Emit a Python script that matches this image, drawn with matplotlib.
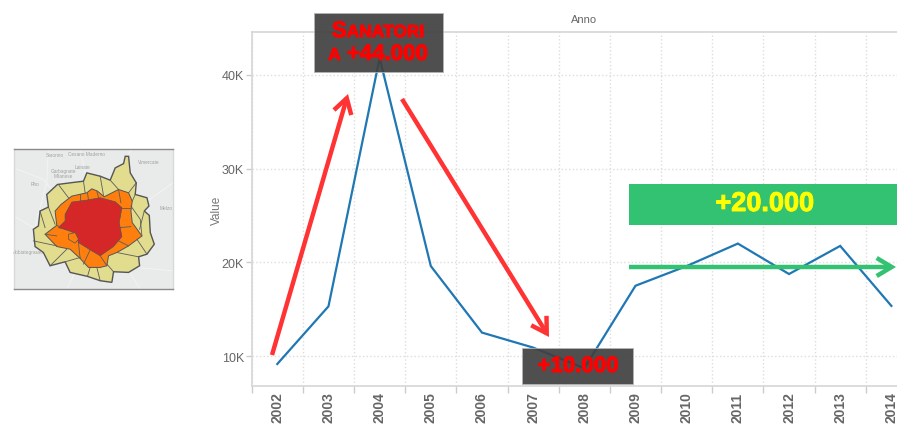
import matplotlib
matplotlib.use("Agg")
import matplotlib.pyplot as plt
import matplotlib.patheffects as pe
from matplotlib.patches import FancyArrowPatch, Polygon, Rectangle

W, H = 897, 427

years = [2002, 2003, 2004, 2005, 2006, 2007, 2008, 2009, 2010, 2011, 2012, 2013, 2014]
values = [9150, 15300, 41800, 19600, 12500, 10900, 8700, 17500, 19600, 22000, 18750, 21750, 15350]
y_ticks = [10000, 20000, 30000, 40000]
y_labels = ["10K", "20K", "30K", "40K"]

# map shapes, in map units
outer_ring = [(375, 50), (385, 50), (390, 100), (408, 130), (405, 165), (440, 175), (446, 200),
              (432, 215), (447, 228), (450, 280), (462, 315), (440, 345), (415, 353), (418, 380),
              (385, 400), (340, 398), (335, 430), (300, 425), (262, 412), (210, 400), (195, 368),
              (150, 380), (130, 340), (105, 322), (100, 270), (115, 260), (120, 215), (145, 203),
              (140, 165), (172, 135), (210, 130), (250, 125), (260, 100), (300, 110), (330, 122),
              (345, 85), (370, 72)]
middle_ring = [(183, 195), (215, 170), (260, 160), (275, 148), (292, 155), (312, 172), (355, 150),
               (385, 160), (396, 185), (392, 215), (396, 250), (425, 290), (385, 320), (350, 340),
               (325, 350), (320, 380), (300, 385), (265, 385), (240, 358), (210, 330), (170, 322),
               (135, 285), (170, 258), (165, 215)]
centre = [(195, 225), (215, 188), (260, 182), (300, 175), (345, 187), (365, 205), (357, 250),
          (365, 292), (340, 322), (300, 350), (270, 332), (235, 310), (225, 282), (200, 272),
          (175, 265), (195, 245)]
inner_cut = [(205, 285), (225, 280), (235, 300), (225, 312), (205, 300)]
borders = [
    [(175, 135), (205, 175)], [(250, 125), (255, 160)], [(300, 110), (310, 168)],
    [(330, 122), (355, 150)], [(408, 130), (385, 160)], [(405, 165), (396, 185)],
    [(392, 200), (420, 240), (425, 290)], [(432, 215), (418, 270)], [(145, 203), (165, 255)],
    [(120, 215), (135, 265)], [(100, 305), (170, 320)], [(150, 380), (200, 330)],
    [(195, 368), (240, 355)], [(262, 412), (270, 385)], [(300, 425), (290, 385)],
    [(340, 398), (320, 375)], [(415, 353), (350, 340)], [(440, 345), (410, 300)],
    [(358, 205), (390, 205)], [(358, 265), (392, 262)], [(345, 300), (385, 320)],
    [(235, 310), (240, 358)], [(270, 332), (250, 375)], [(300, 350), (320, 380)],
    [(170, 258), (200, 272)], [(170, 290), (135, 285)], [(240, 165), (240, 185)],
    [(262, 160), (265, 182)], [(290, 155), (295, 175)], [(355, 150), (362, 190)],
]
roads = [
    [(42, 85), (130, 120), (220, 230), (300, 270)], [(145, 28), (140, 130), (105, 260)],
    [(518, 130), (420, 200), (340, 240)], [(42, 340), (120, 335), (240, 300)],
    [(518, 395), (410, 385), (330, 300)], [(240, 28), (255, 100)], [(200, 450), (235, 380)],
    [(42, 230), (110, 270)], [(395, 28), (375, 60)], [(420, 450), (385, 395)],
]
places = [("Saronno", 165, 45), ("Cesano Maderno", 260, 42), ("Vimercate", 445, 65),
          ("Garbagnate\nMilanese", 190, 100), ("Rho", 105, 133), ("Melzo", 497, 203),
          ("Abbiategrasso", 85, 338), ("Lainate", 248, 82)]

plt.rcParams["font.family"] = ["Liberation Sans", "DejaVu Sans"]
fig = plt.figure(figsize=(W / 100, H / 100), dpi=100, facecolor="white")


def px_axes(left, top, right, bottom):
    return fig.add_axes([left / W, 1 - bottom / H, (right - left) / W, (bottom - top) / H])


# line chart
ax = px_axes(251.7, 33, 897, 387)
x = list(range(len(years)))
ax.plot(x, values, color="#1f77b4", lw=1.6, solid_joinstyle="miter", zorder=3)
ax.set_xlim(-0.5, 12.11)
ax.set_ylim(6800, 44580)
ax.set_yticks(y_ticks, y_labels)
ax.set_xticks(x, years, rotation=90, fontweight="bold")
ax.set_xticks([i - 0.5 for i in x], minor=True)
ax.tick_params(axis="y", colors="#666666", labelsize=9, length=4, width=1, color="#cccccc", pad=1.5)
ax.tick_params(axis="x", which="major", colors="#666666", labelsize=10, length=0, pad=4)
ax.tick_params(axis="x", which="minor", length=5, width=1, color="#cccccc")
ax.grid(axis="y", color="#dddddd", ls=":", lw=1)
ax.grid(axis="x", which="minor", color="#dddddd", ls=":", lw=1)
ax.set_axisbelow(True)
for side in ["top", "left", "bottom"]:
    ax.spines[side].set_color("#d6d6d6")
    ax.spines[side].set_linewidth(1.2)
ax.spines["right"].set_visible(False)
ax.set_ylabel("Value", color="#777777", fontsize=8.5)
ax.yaxis.set_label_coords((223 - 251.7) / (W - 251.7), 0.5)
ax.set_title("Anno", color="#666666", fontsize=8, x=(584 - 251.7) / (W - 251.7), pad=7)

# map inset
m = px_axes(14, 150, 173, 290)
m.set_xlim(42, 518)
m.set_ylim(450, 28)
m.set_facecolor("#e9ebeb")
m.set_xticks([])
m.set_yticks([])
for side, spine in m.spines.items():
    spine.set_color("#8a8a8a" if side in ("top", "bottom") else "#d8d8d8")
    spine.set_linewidth(1.0)
for road in roads:
    m.plot(*zip(*road), color="#f2f3f3", lw=0.7, zorder=1)
for name, mx, my in places:
    m.text(mx, my, name, fontsize=3.4, color="#a0a0a0", ha="center", va="center", zorder=2,
           linespacing=0.9)
m.add_patch(Polygon(outer_ring, fc="#e2dc8e", ec="#555555", lw=1.0, zorder=3))
m.add_patch(Polygon(middle_ring, fc="#ff7f0e", ec="#555555", lw=0.7, zorder=4))
for line in borders:
    m.plot(*zip(*line), color="#5c5c5c", lw=0.6, zorder=5)
m.add_patch(Polygon(centre, fc="#d62728", ec="#555555", lw=0.5, zorder=6))
m.add_patch(Polygon(inner_cut, fc="#ff7f0e", ec="#555555", lw=0.5, zorder=7))

# overlay for callouts, in pixels from the top left
ov = fig.add_axes([0, 0, 1, 1], facecolor="none")
ov.set_xlim(0, W)
ov.set_ylim(H, 0)
ov.axis("off")

ov.add_patch(Rectangle((314, 14), 129, 59, fc="#404040", ec="#b5b5b5", lw=0.6, alpha=0.92))
ov.add_patch(Rectangle((522, 349), 111, 36, fc="#404040", ec="#b5b5b5", lw=0.6, alpha=0.92))
ov.add_patch(Rectangle((629, 185), 268, 41, fc="#33c172", ec="none"))

for start, end, color in [((272, 356), (348, 95), "#ff3333"),
                          ((402, 100), (549, 338), "#ff3333"),
                          ((629, 268), (896, 268), "#33c172")]:
    ov.add_patch(FancyArrowPatch(start, end, arrowstyle="->,head_length=0.6,head_width=0.36",
                                 mutation_scale=18, color=color, lw=3.2, shrinkA=0, shrinkB=0,
                                 joinstyle="miter", capstyle="butt", zorder=6))

heavy = [pe.withStroke(linewidth=0.7, foreground="#ff0000")]


def caps_line(parts, cx, base):
    """Centre a run of (text, size) pieces on cx, sharing one baseline."""
    renderer = fig.canvas.get_renderer()
    items = [ov.text(0, base, s, fontsize=size, fontweight="bold", color="#ff0000", va="baseline",
                     path_effects=heavy, zorder=8) for s, size in parts]
    widths = [t.get_window_extent(renderer).width for t in items]
    pos = cx - sum(widths) / 2
    for t, w in zip(items, widths):
        t.set_x(pos)
        pos += w


caps_line([("S", 16), ("ANATORI", 12.5)], 378, 38)
caps_line([("A", 12.5), (" +44.000", 16)], 378, 61)
caps_line([("+10.000", 16)], 578, 373)
ov.text(765, 205, "+20.000", fontsize=19.5, fontweight="bold", color="#ffff00", ha="center",
        va="center", path_effects=[pe.withStroke(linewidth=0.7, foreground="#ffff00")], zorder=8)

fig.savefig("out.png", dpi=100)
